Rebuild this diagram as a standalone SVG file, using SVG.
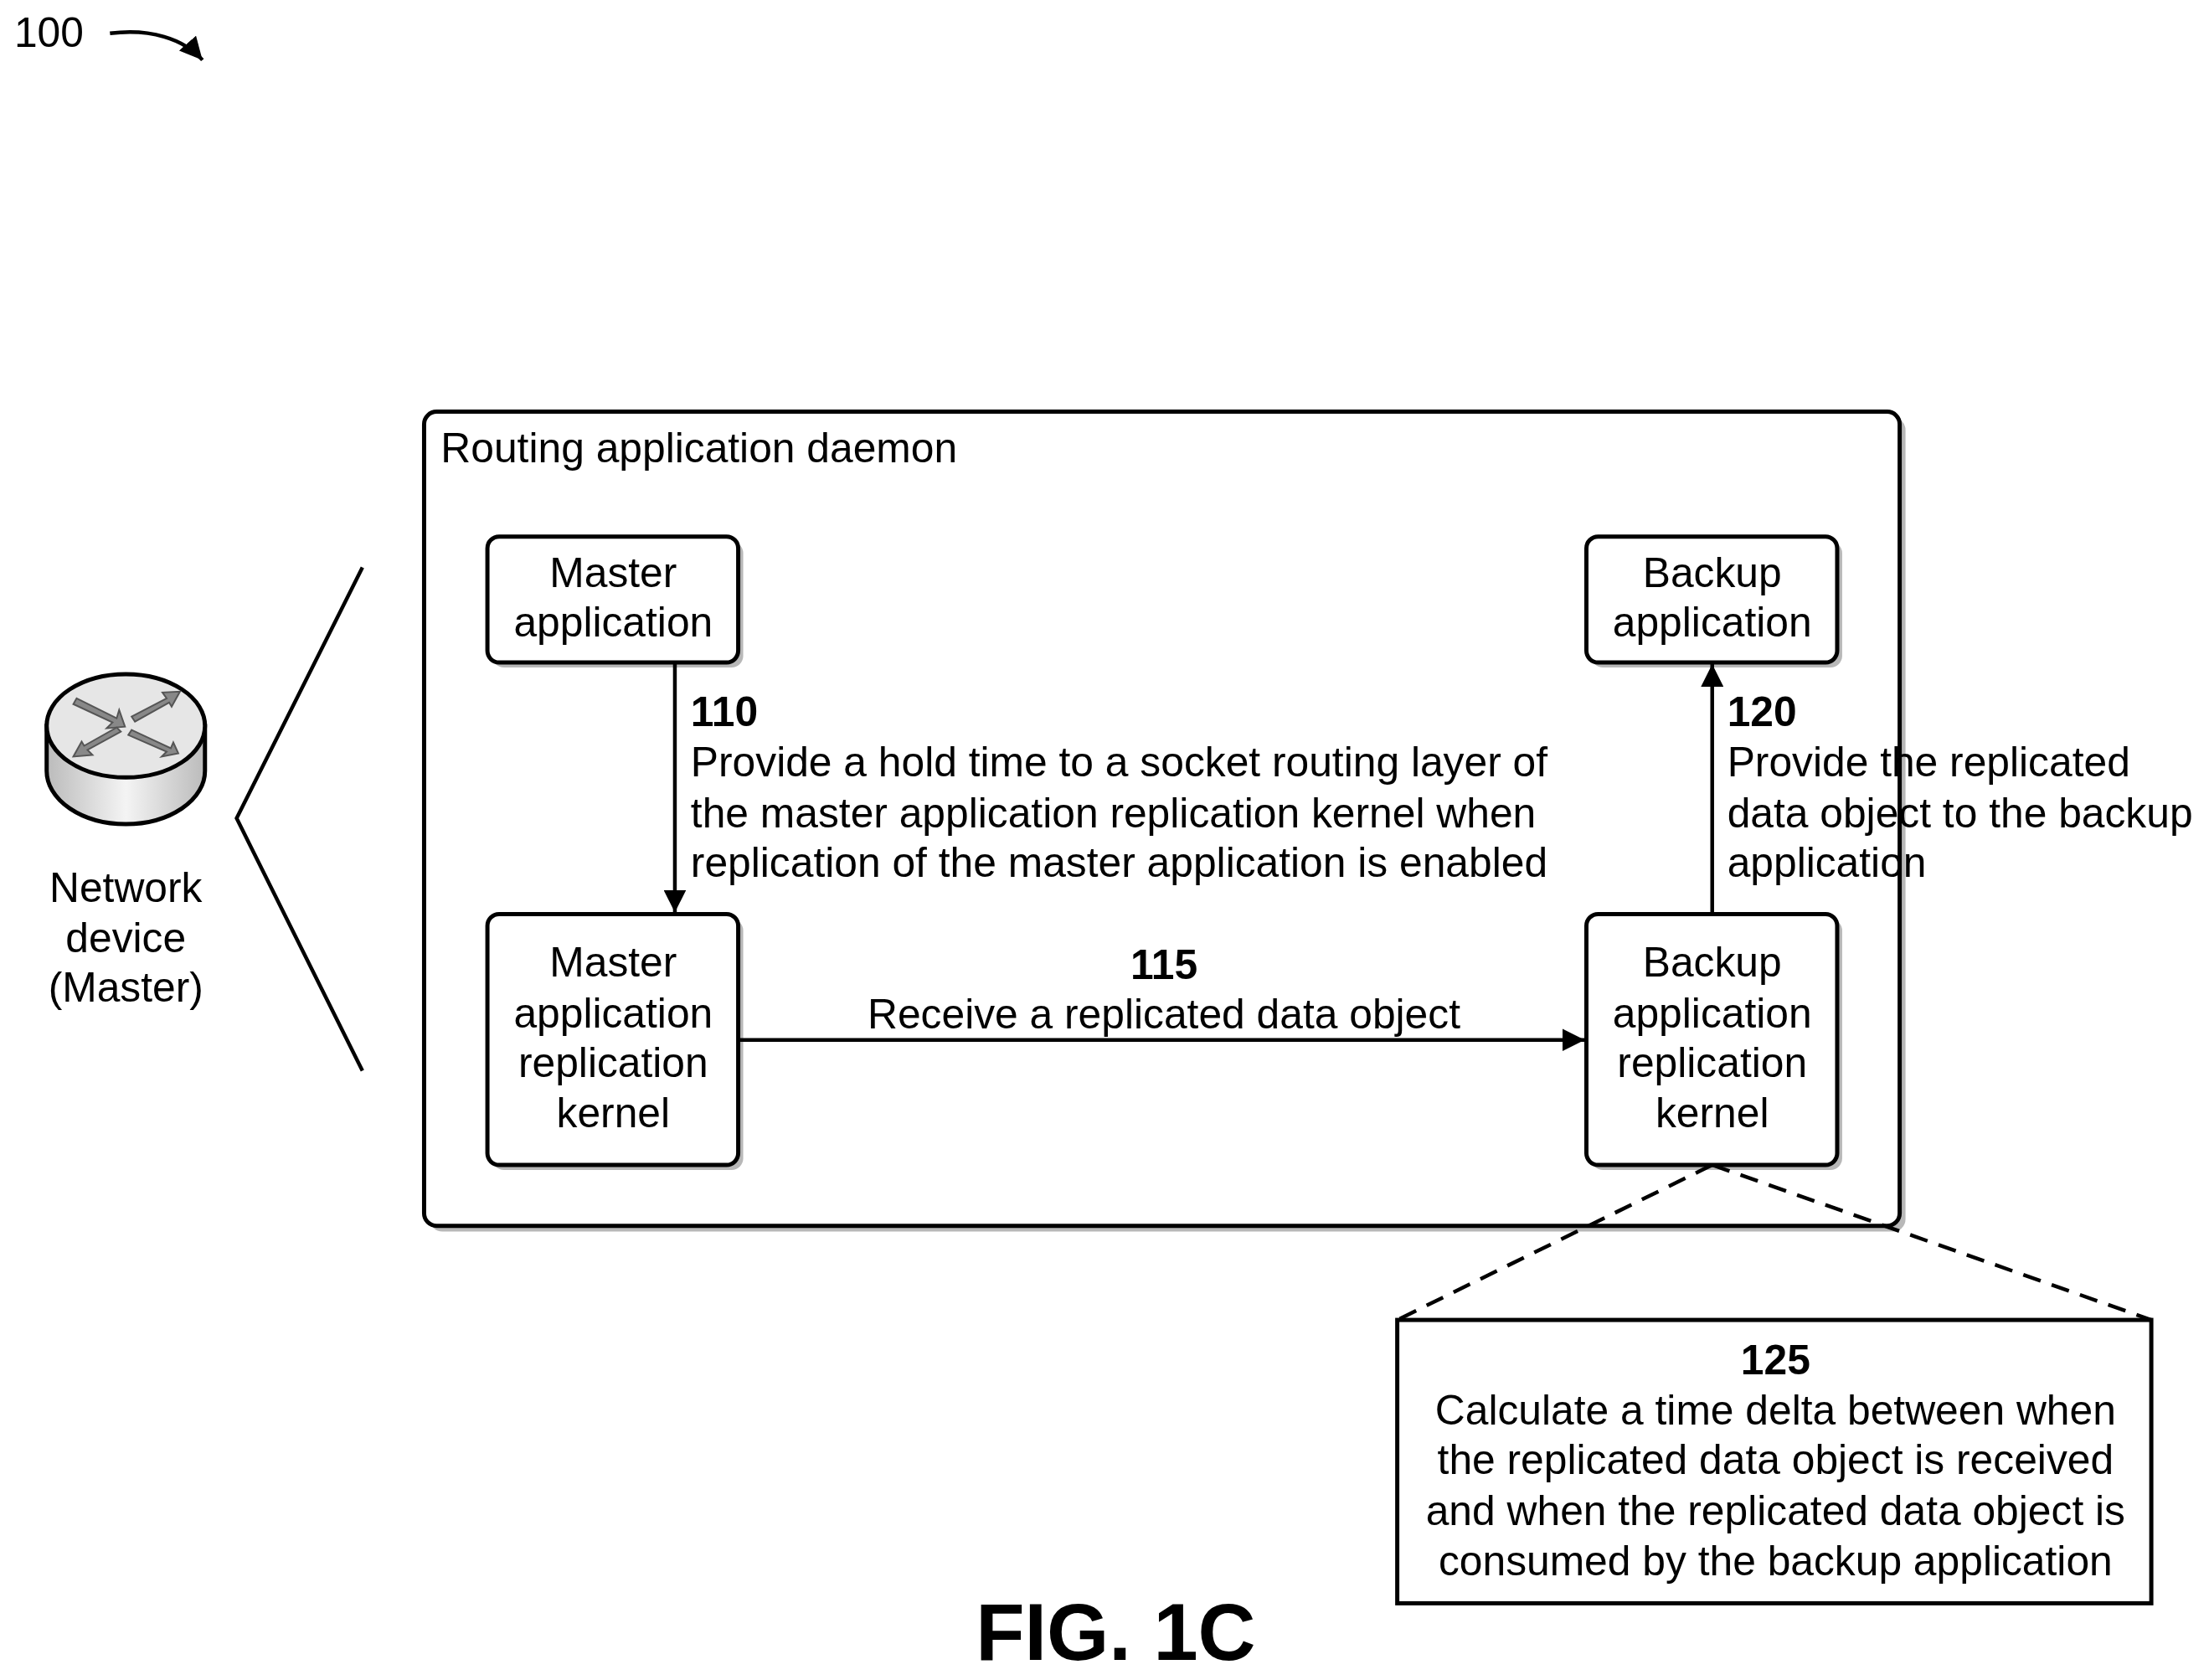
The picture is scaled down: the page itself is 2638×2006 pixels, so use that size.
<svg xmlns="http://www.w3.org/2000/svg" width="2638" height="2006" viewBox="0 0 2638 2006">
<style>
text{font-family:"Liberation Sans",Arial,sans-serif;font-size:50px;fill:#000}
.c{text-anchor:middle}
.b{font-weight:bold}
.box{fill:#fff;stroke:#000;stroke-width:5}
.sh{fill:#b8b8b8}
.ln{fill:none;stroke:#000;stroke-width:4.5}
.dash{fill:none;stroke:#000;stroke-width:4.5;stroke-dasharray:22 14}
</style>
<defs>
<marker id="ah" viewBox="0 0 10 10" refX="10" refY="5" markerWidth="6" markerHeight="6" orient="auto"><path d="M0,0L10,5L0,10z" fill="#000"/></marker>
<linearGradient id="cyl" x1="0" x2="1"><stop offset="0" stop-color="#bbb"/><stop offset="0.5" stop-color="#f4f4f4"/><stop offset="1" stop-color="#bbb"/></linearGradient>
</defs>
<g transform="scale(0.995)">
<g id="ref100">
<text x="17" y="56">100</text>
<path class="ln" d="M132,40 C180,34 220,46 243,72" marker-end="url(#ah)"/>
</g>
<g id="network-device">
<path d="M56,871 L56,925 A95,64 0 0 0 246,925 L246,871 Z" fill="url(#cyl)" stroke="#000" stroke-width="5"/>
<ellipse cx="151" cy="871" rx="95" ry="62" fill="#e6e6e6" stroke="#000" stroke-width="5"/>
<g fill="#888" stroke="#555" stroke-width="2">
<path d="M92,838 L140,862 L143,852 L150,872 L128,874 L135,867 L88,845Z"/>
<path d="M158,860 L200,838 L195,831 L216,830 L206,848 L203,843 L162,866Z"/>
<path d="M145,878 L105,900 L111,906 L88,908 L98,890 L101,895 L140,873Z"/>
<path d="M158,876 L205,898 L208,891 L214,904 L194,908 L200,902 L154,882Z"/>
</g>
<text class="c" x="151" y="1082">Network</text>
<text class="c" x="151" y="1143">device</text>
<text class="c" x="151" y="1202">(Master)</text>
</g>
<g id="bracket"><path class="ln" d="M435,681 L284,982 L435,1285"/></g>
<g id="daemon">
<rect class="sh" x="516" y="501" width="1771" height="977" rx="15"/>
<rect class="box" x="509" y="494" width="1771" height="977" rx="15"/>
<text x="529" y="555">Routing application daemon</text>
</g>
<g id="master-app">
<rect class="sh" x="591" y="650" width="301" height="151" rx="14"/>
<rect class="box" x="585" y="644" width="301" height="151" rx="14"/>
<text class="c" x="736" y="705">Master</text>
<text class="c" x="736" y="764">application</text>
</g>
<g id="master-kernel">
<rect class="sh" x="591" y="1103" width="301" height="301" rx="14"/>
<rect class="box" x="585" y="1097" width="301" height="301" rx="14"/>
<text class="c" x="736" y="1172">Master</text>
<text class="c" x="736" y="1233">application</text>
<text class="c" x="736" y="1292">replication</text>
<text class="c" x="736" y="1353">kernel</text>
</g>
<g id="backup-app">
<rect class="sh" x="1910" y="650" width="301" height="151" rx="14"/>
<rect class="box" x="1904" y="644" width="301" height="151" rx="14"/>
<text class="c" x="2055" y="705">Backup</text>
<text class="c" x="2055" y="764">application</text>
</g>
<g id="backup-kernel">
<rect class="sh" x="1910" y="1103" width="301" height="301" rx="14"/>
<rect class="box" x="1904" y="1097" width="301" height="301" rx="14"/>
<text class="c" x="2055" y="1172">Backup</text>
<text class="c" x="2055" y="1233">application</text>
<text class="c" x="2055" y="1292">replication</text>
<text class="c" x="2055" y="1353">kernel</text>
</g>
<g id="step125">
<rect class="box" x="1677" y="1584" width="905" height="340"/>
<text class="c b" x="2131" y="1649">125</text>
<text class="c" x="2131" y="1710">Calculate a time delta between when</text>
<text class="c" x="2131" y="1769">the replicated data object is received</text>
<text class="c" x="2131" y="1830">and when the replicated data object is</text>
<text class="c" x="2131" y="1890">consumed by the backup application</text>
</g>
<g id="connectors">
<path class="ln" d="M810,795 L810,1095" marker-end="url(#ah)"/>
<path class="ln" d="M886,1248 L1902,1248" marker-end="url(#ah)"/>
<path class="ln" d="M2055,1097 L2055,797" marker-end="url(#ah)"/>
<path class="dash" d="M2055,1398 L1677,1584 M2055,1398 L2582,1584"/>
</g>
<g id="labels">
<text class="b" x="829" y="871">110</text>
<text x="829" y="932">Provide a hold time to a socket routing layer of</text>
<text x="829" y="993">the master application replication kernel when</text>
<text x="829" y="1052">replication of the master application is enabled</text>
<text class="c b" x="1397" y="1175">115</text>
<text class="c" x="1397" y="1234">Receive a replicated data object</text>
<text class="b" x="2073" y="871">120</text>
<text x="2073" y="932">Provide the replicated</text>
<text x="2073" y="993">data object to the backup</text>
<text x="2073" y="1052">application</text>
</g>
<text class="c b" x="1339" y="1992" style="font-size:96px">FIG. 1C</text>
</g>
</svg>
